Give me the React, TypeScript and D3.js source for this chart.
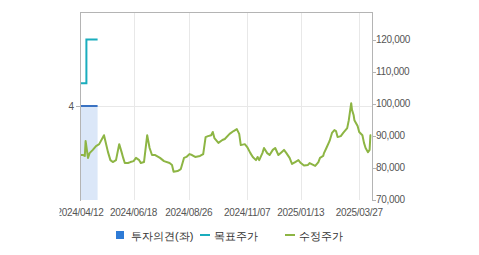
import React from "react";
import * as d3 from "d3";

const priceDates = [
  "2024-04-12","2024-04-16","2024-04-18","2024-04-19","2024-04-22","2024-04-24","2024-04-28","2024-05-02","2024-05-06","2024-05-12",
  "2024-05-14","2024-05-17","2024-05-20","2024-05-23","2024-05-27","2024-05-31","2024-06-03","2024-06-05","2024-06-07","2024-06-11",
  "2024-06-14","2024-06-18","2024-06-21","2024-06-25","2024-06-27","2024-07-01","2024-07-05","2024-07-08","2024-07-11","2024-07-15",
  "2024-07-21","2024-07-26","2024-08-02","2024-08-05","2024-08-07","2024-08-12","2024-08-16","2024-08-20","2024-08-23","2024-08-27",
  "2024-08-30","2024-09-03","2024-09-09","2024-09-13","2024-09-16","2024-09-19","2024-09-23","2024-09-25","2024-09-27","2024-10-02",
  "2024-10-07","2024-10-10","2024-10-16","2024-10-21","2024-10-25","2024-10-28","2024-10-30","2024-11-04","2024-11-07","2024-11-11",
  "2024-11-14","2024-11-18","2024-11-20","2024-11-22","2024-11-26","2024-11-28","2024-12-02","2024-12-05","2024-12-09","2024-12-12",
  "2024-12-16","2024-12-20","2024-12-23","2024-12-26","2024-12-30","2025-01-02","2025-01-06","2025-01-10","2025-01-13","2025-01-17",
  "2025-01-22","2025-01-24","2025-01-31","2025-02-03","2025-02-04","2025-02-06","2025-02-10","2025-02-11","2025-02-14","2025-02-18",
  "2025-02-21","2025-02-24","2025-02-26","2025-02-28","2025-03-04","2025-03-07","2025-03-12","2025-03-14","2025-03-17","2025-03-18",
  "2025-03-20","2025-03-21","2025-03-25","2025-03-27","2025-03-31","2025-04-02","2025-04-04","2025-04-07","2025-04-09","2025-04-10",
  "2025-04-11"
];
const priceValues = [
  83900,83900,83600,88300,83000,84500,85500,86700,87300,90100,
  88000,84800,82300,81700,82300,87300,84800,83000,81400,81400,
  81700,82000,83000,82300,81400,81700,90100,86100,83900,83900,
  83000,82000,81400,80800,78700,78900,79500,83000,83300,84200,
  83900,83300,83600,84200,89500,89800,90100,91100,89200,87700,
  88600,88900,90500,91400,92000,90500,87000,87300,86400,84500,
  83300,82300,83300,82300,84500,86100,84500,83900,85500,86100,
  83900,84800,85500,84500,83000,81100,81700,82300,81400,80600,
  80800,81400,80500,81400,81700,83000,83600,84500,86100,88300,
  90800,91700,91400,89500,89800,90800,92300,94800,100100,98000,
  96400,94800,93000,91100,90100,87700,86100,84800,85500,90100,
  90100
];

const targetDates = ["2024-04-12", "2024-04-20", "2024-05-04"];
const targetValues = [106300, 120000, 120000];

const opinionDates = ["2024-04-12", "2024-05-04"];
const opinionValues = [4, 4];

const xTickLabels = ["2024/04/12", "2024/06/18", "2024/08/26", "2024/11/07", "2025/01/13", "2025/03/27"];
const rightTicks = [70000, 80000, 90000, 100000, 110000, 120000];
const leftTicks = [4];

const legendLabels = ["투자의견(좌)", "목표주가", "수정주가"];

const W = 479, H = 255;
const L = 80, R = 372, T = 12, B = 200;

export default function App() {
  const parse = d3.timeParse("%Y-%m-%d");
  const parseTick = d3.timeParse("%Y/%m/%d");
  const x = d3.scaleTime()
    .domain([parse("2024-04-12")!, parse("2025-04-12")!])
    .range([L, R]);
  const yR = d3.scaleLinear().domain([70000, 120000]).range([199.5, 39.5]);
  const yL = d3.scaleLinear().domain([0, 8]).range([B, T]);

  const price = priceDates.map((d, i) => ({ d: parse(d)!, v: priceValues[i] }));
  const target = targetDates.map((d, i) => ({ d: parse(d)!, v: targetValues[i] }));
  const opinion = opinionDates.map((d, i) => ({ d: parse(d)!, v: opinionValues[i] }));

  const priceLine = d3.line<{ d: Date; v: number }>().x(p => x(p.d)).y(p => yR(p.v))(price)!;
  const targetLine = d3.line<{ d: Date; v: number }>().curve(d3.curveStepAfter).x(p => x(p.d)).y(p => yR(p.v))(target)!;
  const opinionArea = d3.area<{ d: Date; v: number }>().curve(d3.curveStepAfter).x(p => x(p.d)).y0(yL(0)).y1(p => yL(p.v))(opinion)!;
  const opinionLine = d3.line<{ d: Date; v: number }>().curve(d3.curveStepAfter).x(p => x(p.d)).y(p => yL(p.v))(opinion)!;

  const font = "'Liberation Sans', Arial, sans-serif";
  const axisColor = "#b4b4b4";
  const grid = "#e8e8e8";
  const textColor = "#555";

  return (
    <svg width={W} height={H} style={{ position: "absolute", left: 0, top: 0, background: "#fff" }} fontFamily={font}>
      <defs>
        <clipPath id="lblclip"><rect x={59.5} y={0} width={W} height={H} /></clipPath>
        <clipPath id="plotclip"><rect x={L} y={T} width={R - L} height={B - T} /></clipPath>
      </defs>
      {xTickLabels.map((t, i) => {
        const xx = Math.round(x(parseTick(t)!)) + 0.5;
        return <line key={i} x1={xx} x2={xx} y1={T} y2={B} stroke={grid} strokeWidth={1} />;
      })}
      {leftTicks.map((t, i) => (
        <line key={i} x1={L} x2={R} y1={yL(t) + 0.5} y2={yL(t) + 0.5} stroke={grid} strokeWidth={1} />
      ))}
      <path d={opinionArea} fill="#dbe7f8" />
      <path d={opinionLine} fill="none" stroke="#3a72c2" strokeWidth={2} />
      <path d={targetLine} fill="none" stroke="#1aadbd" strokeWidth={2} />
      <g clipPath="url(#plotclip)">
        <path d={priceLine} fill="none" stroke="#8db544" strokeWidth={2} strokeLinejoin="round" />
      </g>
      <line x1={L + 0.5} x2={L + 0.5} y1={T} y2={B + 1} stroke={axisColor} />
      <line x1={L} x2={R} y1={T + 0.5} y2={T + 0.5} stroke={axisColor} />
      <line x1={R + 0.5} x2={R + 0.5} y1={T} y2={B + 1} stroke={axisColor} />
      {rightTicks.map((t, i) => (
        <g key={i}>
          <line x1={R} x2={R + 4} y1={Math.round(yR(t)) + 0.5} y2={Math.round(yR(t)) + 0.5} stroke={axisColor} />
          <text x={R + 4} y={yR(t) + 3.5} fontSize={10} fill={textColor} letterSpacing={-0.3}>
            {d3.format(",")(t)}
          </text>
        </g>
      ))}
      {leftTicks.map((t, i) => (
        <g key={i}>
          <line x1={L - 4} x2={L} y1={yL(t) + 0.5} y2={yL(t) + 0.5} stroke={axisColor} />
          <text x={L - 6} y={yL(t) + 3.5} fontSize={10} fill={textColor} textAnchor="end">{t}</text>
        </g>
      ))}
      <g clipPath="url(#lblclip)">
        {xTickLabels.map((t, i) => (
          <text key={i} x={x(parseTick(t)!)} y={216} fontSize={10} fill={textColor} textAnchor="middle" letterSpacing={-0.3}>
            {t}
          </text>
        ))}
      </g>
      <rect x={116} y={231} width={8} height={8} fill="#2e7bd6" />
      <text x={131} y={239.5} fontSize={11} fill="#333">{legendLabels[0]}</text>
      <rect x={200} y={234} width={10} height={2} fill="#1aadbd" />
      <text x={214} y={239.5} fontSize={11} fill="#333">{legendLabels[1]}</text>
      <rect x={285} y={234} width={10} height={2} fill="#8db544" />
      <text x={299} y={239.5} fontSize={11} fill="#333">{legendLabels[2]}</text>
    </svg>
  );
}
